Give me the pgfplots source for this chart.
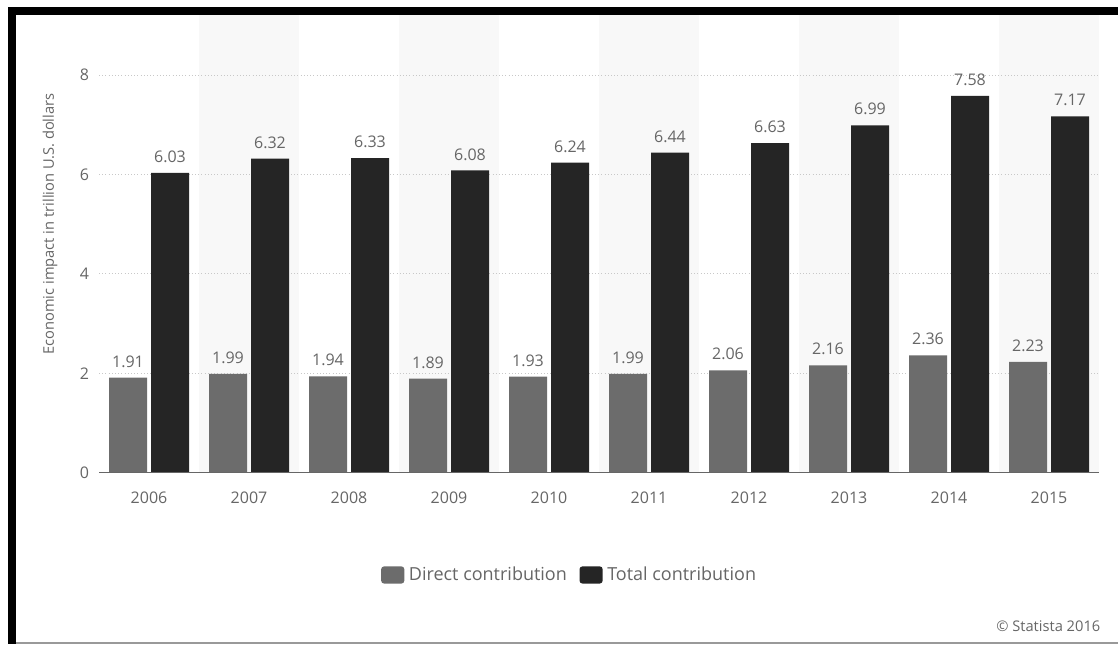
\documentclass[border=0pt]{standalone}
\usepackage{pgfplots}
\pgfplotsset{compat=1.18}
\usepackage{fontspec}
\setmainfont{Open Sans}
\definecolor{directc}{HTML}{6C6C6C}
\definecolor{totalc}{HTML}{252525}
\definecolor{txtgray}{HTML}{666666}
\definecolor{bandc}{HTML}{F8F8F8}
\definecolor{gridc}{HTML}{C8C8C8}
\begin{document}
\begin{tikzpicture}
\useasboundingbox (0pt,0pt) rectangle (838.5pt,483pt);
\fill[white] (0pt,0pt) rectangle (838.5pt,483pt);
% frame
\fill[black] (6pt,471.75pt) rectangle (838.5pt,477.75pt);
\fill[black] (6pt,0pt) rectangle (12pt,477.75pt);
\draw[gray!80, line width=1.1pt] (12pt,0.8pt) -- (838.5pt,0.8pt);
% alternating background bands (category 1,3,5,7,9)
\foreach \c in {1,3,5,7,9}{
  \fill[bandc] ({74.25pt+75pt*\c},128.5pt) rectangle ({74.25pt+75pt*(\c+1)},471.75pt);
}
\begin{axis}[
  scale only axis,
  at={(74.25pt,128.5pt)}, anchor=south west,
  width=750pt, height=343.3pt,
  xmin=-0.5, xmax=9.5, ymin=0, ymax=9.21,
  ybar=3pt, bar width=28.5pt,
  axis line style={draw=none},
  major tick length=0pt,
  xtick={0,...,9},
  xticklabels={2006,2007,2008,2009,2010,2011,2012,2013,2014,2015},
  ytick={0,2,4,6,8},
  ymajorgrids,
  grid style={gridc, dotted, line width=0.8pt},
  /pgf/number format/assume math mode=true,
  ticklabel style={font=\fontsize{12}{14}\selectfont, text=txtgray},
  xticklabel style={yshift=-11pt},
  yticklabel style={xshift=-4pt},
  nodes near coords,
  nodes near coords style={font=\fontsize{12}{14}\selectfont, text=txtgray,
     /pgf/number format/fixed, /pgf/number format/fixed zerofill,
     /pgf/number format/precision=2, /pgf/number format/assume math mode=true},
  every node near coord/.append style={inner sep=0pt, yshift=7.5pt},
  legend columns=2,
  legend style={at={(0.471,-0.2235)}, anchor=center, draw=none, fill=none,
     font=\fontsize{13.5}{15}\selectfont, text=txtgray,
     /tikz/every even column/.append style={column sep=7.5pt}},
  legend image code/.code={\fill[#1, rounded corners=2pt] (0pt,-6.4pt) rectangle (17.25pt,6.4pt); \path (18.75pt,0pt);},
]
\addplot[fill=directc, draw=none] coordinates {(0,1.91) (1,1.99) (2,1.94) (3,1.89) (4,1.93) (5,1.99) (6,2.06) (7,2.16) (8,2.36) (9,2.23)};
\addlegendentry{Direct contribution}
\addplot[fill=totalc, draw=none] coordinates {(0,6.03) (1,6.32) (2,6.33) (3,6.08) (4,6.24) (5,6.44) (6,6.63) (7,6.99) (8,7.58) (9,7.17)};
\addlegendentry{Total contribution}
\draw[txtgray, line width=1.1pt] (axis cs:-0.5,0) -- (axis cs:9.5,0);
\end{axis}
\node[rotate=90, text=txtgray, font=\fontsize{11}{13}\selectfont] at (37.5pt,315pt) {Economic impact in trillion U.S. dollars};
\node[anchor=east, text=txtgray, font=\fontsize{11}{13}\selectfont] at (828.75pt,13.5pt) {\textcopyright\ Statista 2016};
\end{tikzpicture}
\end{document}
